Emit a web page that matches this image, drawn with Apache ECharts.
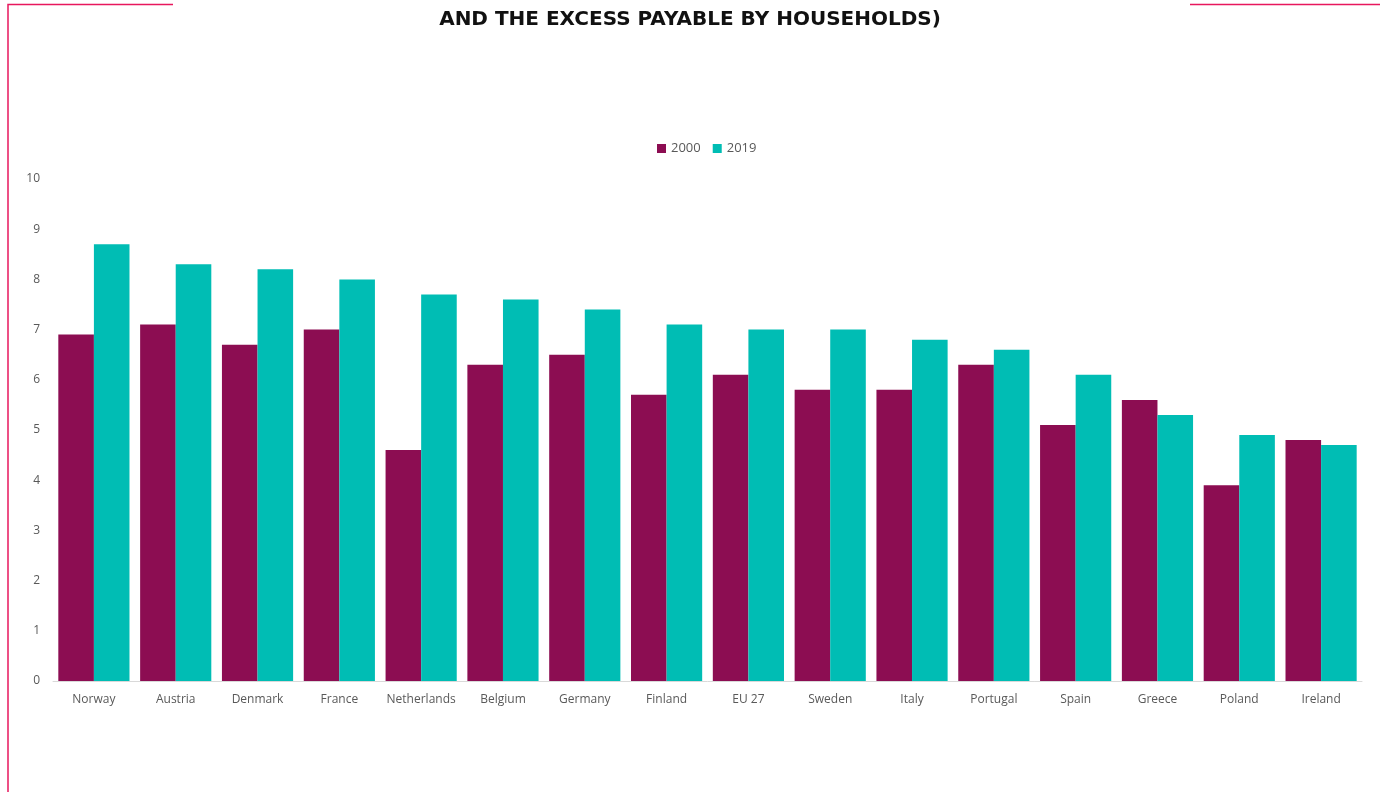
<!DOCTYPE html>
<html><head><meta charset="utf-8">
<script src="https://cdn.jsdelivr.net/npm/echarts@6/dist/echarts.min.js"></script>
<style>html,body{margin:0;padding:0;background:#fff}#c{width:1380px;height:792px}</style>
</head><body><div id="c"></div>
<script>
const categories = ["Norway","Austria","Denmark","France","Netherlands","Belgium","Germany","Finland","EU 27","Sweden","Italy","Portugal","Spain","Greece","Poland","Ireland"];
const values2000 = [6.9,7.1,6.7,7.0,4.6,6.3,6.5,5.7,6.1,5.8,5.8,6.3,5.1,5.6,3.9,4.8];
const values2019 = [8.7,8.3,8.2,8.0,7.7,7.6,7.4,7.1,7.0,7.0,6.8,6.6,6.1,5.3,4.9,4.7];
const seriesNames = ["2000","2019"];
const titleText = "AND THE EXCESS PAYABLE BY HOUSEHOLDS)";

const chart = echarts.init(document.getElementById('c'));
const font = '"Open Sans", "Liberation Sans", sans-serif';
chart.setOption({
  animation:false,
  textStyle:{fontFamily:font},
  title:{text:titleText,left:'center',top:5,textStyle:{fontSize:20,fontWeight:'bold',color:'#111',fontFamily:'"DejaVu Sans", sans-serif'}},
  legend:{data:seriesNames,top:137,left:652,itemWidth:9,itemHeight:9,itemGap:12,icon:'rect',textStyle:{color:'#595959',fontSize:13}},
  grid:{left:53,right:18,top:179,bottom:111,containLabel:false},
  xAxis:{type:'category',data:categories,axisLine:{lineStyle:{color:'#d9d9d9',width:1}},axisTick:{show:false},axisLabel:{interval:0,color:'#595959',fontSize:12,margin:13}},
  yAxis:{type:'value',min:0,max:10,interval:1,splitLine:{show:false},axisLine:{show:false},axisTick:{show:false},axisLabel:{color:'#595959',fontSize:12,margin:13}},
  series:[
    {name:seriesNames[0],type:'bar',data:values2000,barGap:'0%',barCategoryGap:'13%',itemStyle:{color:'#8C0D52'}},
    {name:seriesNames[1],type:'bar',data:values2019,barGap:'0%',barCategoryGap:'13%',itemStyle:{color:'#00BDB4'}}
  ],
  graphic:[
    {type:'polyline',shape:{points:[[8,792],[8,4.5],[173,4.5]]},style:{stroke:'#E8175D',lineWidth:1.5,fill:null},silent:true},
    {type:'line',shape:{x1:1190,y1:4.5,x2:1380,y2:4.5},style:{stroke:'#E8175D',lineWidth:1.5},silent:true}
  ]
});
</script></body></html>
